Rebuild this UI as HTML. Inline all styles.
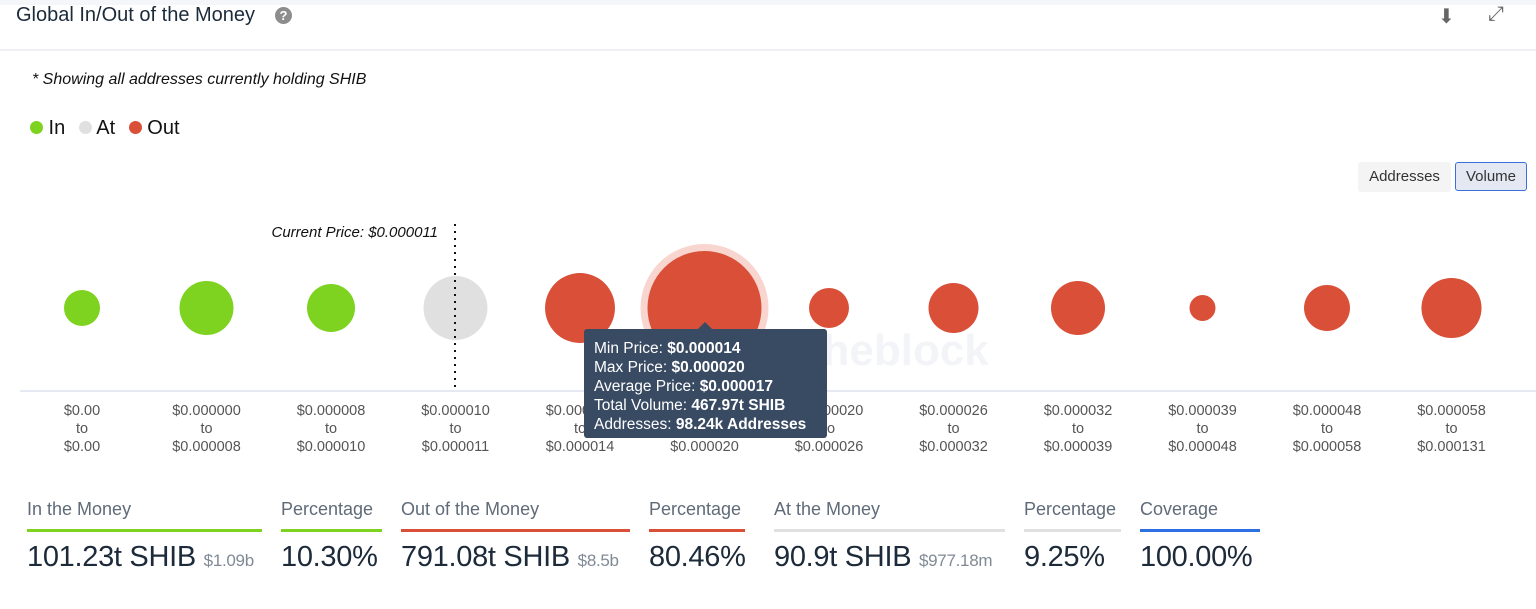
<!DOCTYPE html>
<html><head><meta charset="utf-8"><style>
body{margin:0;width:1536px;height:609px;background:#fff;font-family:"Liberation Sans",sans-serif;position:relative;overflow:hidden;color:#1c2a3a}
.abs{position:absolute}
.stat .t{position:absolute;top:499px;font-size:18px;color:#5f6b78;white-space:nowrap}
.stat .l{position:absolute;top:529px;height:3px}
.stat .v{position:absolute;top:541px;font-size:29px;color:#1c2a3a;white-space:nowrap;letter-spacing:-0.3px}
.stat .v small{font-size:17px;color:#808a95}
</style></head><body>
<div class="abs" style="left:0;top:0;width:1536px;height:5px;background:#f5f6fa"></div>
<div class="abs" style="left:16px;top:4px;font-size:20px;color:#1c2a3a">Global In/Out of the Money</div>
<div class="abs" style="left:275px;top:7px;width:17px;height:17px;border-radius:50%;background:#8d8d8d;color:#fff;font-size:13px;font-weight:bold;text-align:center;line-height:17px">?</div>
<div class="abs" style="left:1438px;top:4px;font-size:20px;color:#666">&#x2B07;</div>
<div class="abs" style="left:1488px;top:3px;font-size:20px;color:#666">&#x2922;</div>
<div class="abs" style="left:0;top:49px;width:1536px;height:2px;background:#eef0f3"></div>
<div class="abs" style="left:32px;top:71px;font-size:16px;font-style:italic;color:#111">* Showing all addresses currently holding SHIB</div>
<div class="abs" style="left:30px;top:117px;font-size:20px;color:#111">
<span><span style="display:inline-block;width:13px;height:13px;border-radius:50%;background:#7ed321"></span> In</span>
<span style="margin-left:8px"><span style="display:inline-block;width:13px;height:13px;border-radius:50%;background:#e0e0e0"></span> At</span>
<span style="margin-left:8px"><span style="display:inline-block;width:13px;height:13px;border-radius:50%;background:#d94f37"></span> Out</span>
</div>
<div class="abs" style="left:1358px;top:162px;width:93px;height:30px;background:#f4f4f4;border-radius:3px;font-size:15px;line-height:30px;text-align:center;color:#333">Addresses</div>
<div class="abs" style="left:1455px;top:162px;width:70px;height:27px;background:#e3e8f2;border:1.5px solid #3b6fd8;border-radius:3px;font-size:15px;line-height:27px;text-align:center;color:#333">Volume</div>

<svg class="abs" style="left:0;top:0" width="1536" height="609" id="chart">
<text x="858" y="365" font-size="44" font-weight="bold" fill="#f3f4f8" text-anchor="middle">intotheblock</text>
<line x1="20" y1="391" x2="1536" y2="391" stroke="#ccd3e6" stroke-width="1"/>
<g id="bubbles"></g><g id="labels"></g>
<line x1="455" y1="224" x2="455" y2="391" stroke="#111" stroke-width="2" stroke-dasharray="2,5"/>
<text x="438" y="237" font-size="15" font-style="italic" fill="#111" text-anchor="end">Current Price: $0.000011</text>
</svg>

<div class="abs" style="left:584px;top:329px;width:243px;height:109px;background:#394a63;border-radius:3px;color:#fff;font-size:15.5px;line-height:19px;padding:10px 0 0 10px;box-sizing:border-box;white-space:nowrap">
<div style="position:absolute;left:114px;top:-7px;width:0;height:0;border-left:7px solid transparent;border-right:7px solid transparent;border-bottom:7px solid #394a63"></div>
Min Price: <b>$0.000014</b><br>Max Price: <b>$0.000020</b><br>Average Price: <b>$0.000017</b><br>Total Volume: <b>467.97t SHIB</b><br>Addresses: <b>98.24k Addresses</b></div>

<div class="stat">
<div class="t" style="left:27px">In the Money</div><div class="l" style="left:27px;width:235px;background:#7ed321"></div><div class="v" style="left:27px">101.23t SHIB <small>$1.09b</small></div>
<div class="t" style="left:281px">Percentage</div><div class="l" style="left:281px;width:101px;background:#7ed321"></div><div class="v" style="left:281px">10.30%</div>
<div class="t" style="left:401px">Out of the Money</div><div class="l" style="left:401px;width:229px;background:#d94f37"></div><div class="v" style="left:401px">791.08t SHIB <small>$8.5b</small></div>
<div class="t" style="left:649px">Percentage</div><div class="l" style="left:649px;width:96px;background:#d94f37"></div><div class="v" style="left:649px">80.46%</div>
<div class="t" style="left:774px">At the Money</div><div class="l" style="left:774px;width:231px;background:#e0e0e0"></div><div class="v" style="left:774px">90.9t SHIB <small>$977.18m</small></div>
<div class="t" style="left:1024px">Percentage</div><div class="l" style="left:1024px;width:97px;background:#e0e0e0"></div><div class="v" style="left:1024px">9.25%</div>
<div class="t" style="left:1140px">Coverage</div><div class="l" style="left:1140px;width:120px;background:#2f6fe4"></div><div class="v" style="left:1140px">100.00%</div>
</div>

<script>
const lowLabels=["$0.00","$0.000000","$0.000008","$0.000010","$0.000014","$0.000020","$0.000020","$0.000026","$0.000032","$0.000039","$0.000048","$0.000058"];
const highLabels=["$0.00","$0.000008","$0.000010","$0.000011","$0.000014","$0.000020","$0.000026","$0.000032","$0.000039","$0.000048","$0.000058","$0.000131"];
const volumes=[46.7,105,83,147,176,467.97,57.6,90,105,24.3,76,130];
const status=["in","in","in","at","out","out","out","out","out","out","out","out"];
const colors={in:"#7ed321",at:"#e0e0e0",out:"#d94f37"};
const NS="http://www.w3.org/2000/svg";
const x0=82,step=124.5,cy=308,k=57/Math.sqrt(467.97);
const xPos=i=>x0+i*step;
const rad=v=>k*Math.sqrt(v);
const bg=document.getElementById('bubbles'),lg=document.getElementById('labels');
volumes.forEach((v,i)=>{
  if(i===5){const h=document.createElementNS(NS,'circle');
    h.setAttribute('cx',xPos(i));h.setAttribute('cy',cy);h.setAttribute('r',rad(v)+7);h.setAttribute('fill','#f8d5cf');
    
    
    bg.appendChild(h);}
  const c=document.createElementNS(NS,'circle');
  c.setAttribute('cx',xPos(i));c.setAttribute('cy',cy);c.setAttribute('r',rad(v));c.setAttribute('fill',colors[status[i]]);
  
  
  bg.appendChild(c);
  const t=document.createElementNS(NS,'text');
  t.setAttribute('x',xPos(i));t.setAttribute('text-anchor','middle');t.setAttribute('font-size','14.5');t.setAttribute('fill','#555');
  
  
  [lowLabels[i],"to",highLabels[i]].forEach((s,j)=>{const ts=document.createElementNS(NS,'tspan');ts.setAttribute('x',xPos(i));ts.setAttribute('y',415+j*18);ts.textContent=s;t.appendChild(ts);});
  lg.appendChild(t);
});
</script>
</body></html>
